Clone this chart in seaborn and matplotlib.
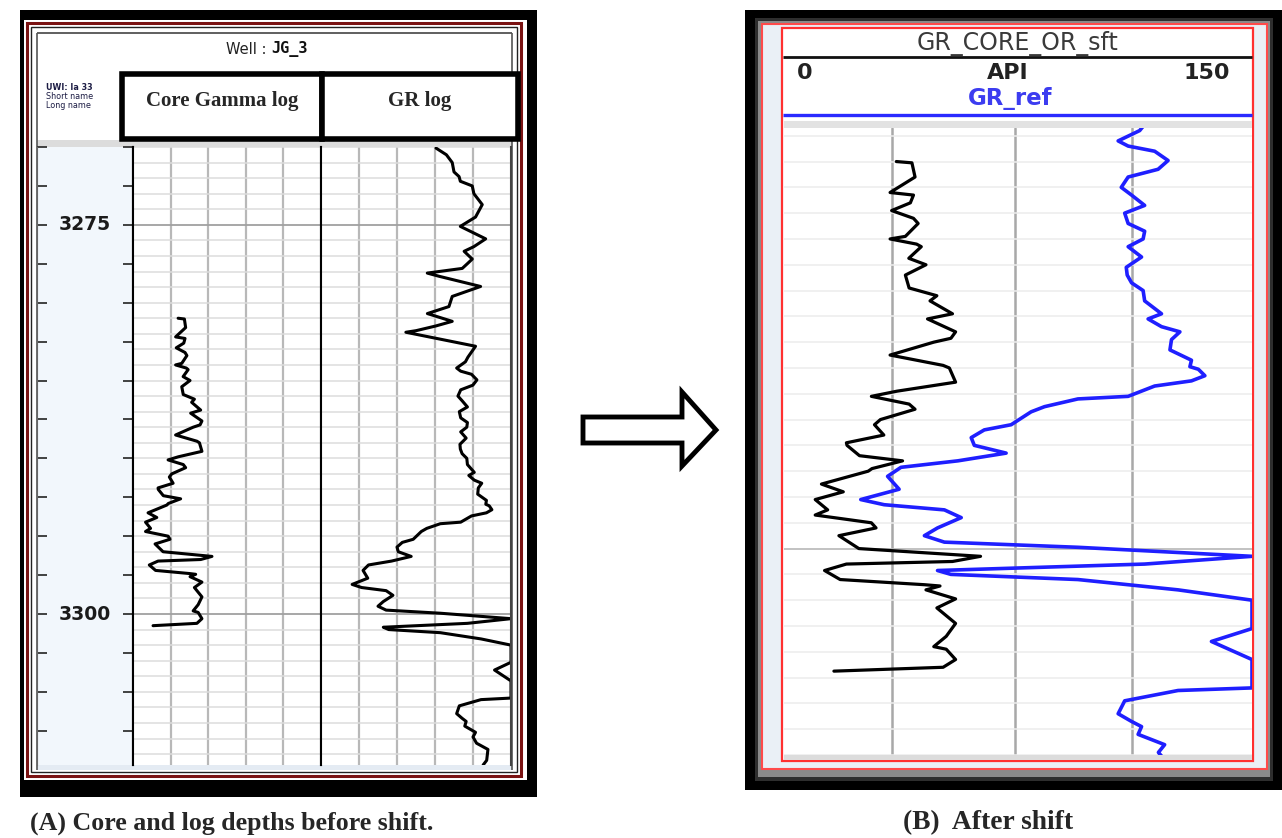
import matplotlib
matplotlib.use("Agg")
import numpy as np
import pandas as pd
import seaborn as sns
import matplotlib.pyplot as plt
from matplotlib.patches import Rectangle, Polygon
from matplotlib.ticker import MultipleLocator, FixedLocator
import matplotlib.transforms as mtrans

# ---------------- data ----------------
GR_DEPTH = [3270.07, 3270.5, 3271.0, 3271.6, 3271.9, 3272.2, 3272.5, 3273.0, 3273.7, 3274.5,
            3275.1, 3275.9, 3276.4, 3276.7, 3277.2, 3277.5, 3277.8, 3278.1, 3278.3, 3278.96,
            3279.6, 3280.25, 3280.7, 3281.2, 3281.5, 3281.8, 3281.9, 3282.8, 3283.5, 3283.8,
            3284.2, 3284.4, 3284.6, 3284.96, 3285.3, 3285.6, 3286.0, 3286.3, 3286.7, 3287.0,
            3287.4, 3287.7, 3288.0, 3288.3, 3288.7, 3289.1, 3289.4, 3289.7, 3290.0, 3290.4,
            3290.9, 3291.1, 3291.4, 3291.6, 3291.9, 3292.3, 3292.7, 3292.95, 3293.05, 3293.3,
            3293.5, 3293.7, 3294.1, 3294.2, 3294.5, 3294.7, 3295.2, 3295.4, 3295.7, 3296.0,
            3296.3, 3296.6, 3296.85, 3297.2, 3297.7, 3298.1, 3298.3, 3298.5, 3298.8, 3299.2,
            3299.5, 3299.75, 3299.95, 3300.3, 3300.6, 3300.85, 3301.0, 3301.2, 3301.6, 3302.0,
            3303.1, 3303.6, 3304.3, 3305.4, 3305.5, 3305.9, 3306.4, 3306.7, 3306.9, 3307.2,
            3307.6, 3307.9, 3308.3, 3308.7, 3309.4, 3309.7]
GR_API = [90.8, 99.0, 103.6, 105.0, 109.0, 110.0, 119.4, 120.7, 127.3, 122.0,
          110.0, 130.0, 120.7, 113.0, 119.4, 115.5, 111.5, 83.9, 93.0, 126.0,
          103.6, 101.0, 84.0, 103.6, 90.5, 75.0, 67.0, 122.0, 116.0, 114.0,
          107.1, 110.3, 118.8, 123.1, 119.9, 110.3, 108.1, 111.4, 115.6, 109.2,
          110.3, 115.6, 115.1, 110.3, 114.6, 109.7, 110.0, 111.4, 115.1, 115.6,
          121.0, 116.7, 121.0, 126.9, 124.2, 123.7, 130.6, 130.1, 132.8, 134.9,
          130.6, 118.8, 110.3, 94.2, 83.5, 79.2, 72.8, 64.2, 60.0, 61.0,
          71.2, 55.7, 37.5, 33.2, 36.9, 24.6, 32.1, 51.4, 56.8, 49.2,
          45.0, 51.4, 94.2, 150.0, 115.6, 49.2, 53.5, 94.2, 126.3, 150.0,
          150.0, 137.0, 150.0, 150.0, 126.3, 109.2, 107.1, 111.4, 114.6, 113.5,
          122.0, 120.0, 122.8, 131.8, 130.8, 128.0]

CORE_DEPTH = [3281.0, 3281.05, 3281.6, 3282.2, 3282.3, 3282.6, 3282.9, 3283.2, 3283.4, 3283.9,
              3284.0, 3284.2, 3284.3, 3284.75, 3285.0, 3285.4, 3285.9, 3286.2, 3286.4, 3286.9,
              3287.1, 3287.6, 3287.85, 3288.0, 3288.5, 3288.9, 3289.0, 3289.55, 3289.9, 3290.1,
              3290.4, 3290.6, 3291.0, 3291.2, 3291.6, 3291.9, 3292.0, 3292.4, 3292.6, 3292.9,
              3293.0, 3293.5, 3293.8, 3294.1, 3294.5, 3294.7, 3295.0, 3295.2, 3295.5, 3296.0,
              3296.3, 3296.5, 3296.6, 3296.85, 3297.2, 3297.4, 3297.45, 3297.6, 3297.95, 3298.3,
              3298.9, 3299.4, 3299.8, 3299.9, 3300.3, 3300.6, 3300.75]
CORE_API = [36.0, 41.0, 42.0, 34.0, 41.5, 40.5, 34.5, 41.5, 43.0, 38.9,
            34.0, 42.5, 44.0, 40.0, 45.5, 38.9, 40.1, 49.0, 46.8, 54.0,
            46.0, 55.0, 53.5, 48.0, 34.0, 51.0, 53.0, 55.0, 36.2, 28.0,
            40.1, 42.0, 30.9, 29.0, 32.0, 20.0, 20.2, 24.2, 38.0, 28.2,
            27.0, 12.0, 19.0, 10.0, 14.0, 10.0, 28.0, 29.5, 17.6, 24.0,
            63.0, 54.0, 20.0, 13.0, 18.0, 45.0, 50.0, 45.5, 55.0, 49.0,
            55.0, 52.0, 48.0, 52.0, 55.0, 51.0, 16.0]

CORE_SHIFT = 4.0                 # depth shift applied to the core curve (panel B)
DEPTH_LABELS = [3275, 3300]
API_RANGE = (0, 150)
WELL_NAME = "JG_3"
TRACK_TITLES = ["Core Gamma log", "GR log"]
B_TITLE = "GR_CORE_OR_sft"
B_CURVE = "GR_ref"
CAPTIONS = ["(A) Core and log depths before shift.", "(B)  After shift"]

gr_df = pd.DataFrame({"depth": GR_DEPTH, "api": GR_API})
core_df = pd.DataFrame({"depth": CORE_DEPTH, "api": CORE_API})
core_shift_df = core_df.assign(depth=core_df["depth"] + CORE_SHIFT)

# ---------------- figure ----------------
sns.set_style("white")
plt.rcParams["font.family"] = ["DejaVu Sans"]
W, H = 1282, 838
fig = plt.figure(figsize=(W / 100, H / 100), dpi=100)


def px_axes(x0, y0, x1, y1):
    return fig.add_axes([x0 / W, 1 - y1 / H, (x1 - x0) / W, (y1 - y0) / H])


bg = px_axes(0, 0, W, H)
bg.set_xlim(0, W)
bg.set_ylim(H, 0)
bg.axis("off")


def rect(x0, y0, x1, y1, **kw):
    bg.add_patch(Rectangle((x0, y0), x1 - x0, y1 - y0, **kw))


def seg(xs, ys, **kw):
    bg.plot(xs, ys, solid_capstyle="butt", **kw)


# ---------- panel A frame ----------
rect(20, 10, 537, 797, fc="black", ec="none")
rect(24, 20, 527, 780, fc="white", ec="none")
rect(27, 23, 521, 776, fc="none", ec="#7a1212", lw=2.2)
rect(31, 27, 517, 772, fc="none", ec="#222222", lw=1.0)
seg([37, 512], [33, 33], color="#444444", lw=1.2)
seg([37, 37], [33, 770], color="#555555", lw=1.2)
seg([512, 512], [33, 770], color="#555555", lw=1.2)
rect(37, 140, 512, 147, fc="#dcdcdc", ec="none")
rect(37, 765, 512, 770, fc="#e4ebf3", ec="none")

bg.text(271, 49, "Well : ", ha="right", va="center", fontsize=10.5, color="#222222")
bg.text(271, 49, WELL_NAME, ha="left", va="center", fontsize=11, fontweight="bold",
        family="DejaVu Sans Mono", color="#111111")
for i, t in enumerate(["UWI: Ia 33", "Short name", "Long name"]):
    bg.text(46, 88 + i * 8.5, t, ha="left", va="center", fontsize=5.8, color="#1c1c44",
            fontweight="bold" if i == 0 else "normal")

# header boxes
rect(122, 74, 322, 139, fc="white", ec="black", lw=4, zorder=5)
rect(322, 74, 518, 139, fc="white", ec="black", lw=4, zorder=5)
bg.text(222, 101, TRACK_TITLES[0], ha="center", va="center", fontsize=15,
        family="Liberation Serif", fontweight="bold", zorder=6)
bg.text(420, 101, TRACK_TITLES[1], ha="center", va="center", fontsize=15,
        family="Liberation Serif", fontweight="bold", zorder=6)

# ---------- panel B frame ----------
rect(745, 10, 1282, 790, fc="black", ec="none")
rect(755, 18, 1273, 781, fc="#2e2e2e", ec="none")
rect(758, 21, 1270, 777, fc="#8a8a8a", ec="none")
rect(762, 24, 1267, 769, fc="#eaf0f6", ec="#ff4a4a", lw=1.5)
rect(782, 28, 1253, 761, fc="white", ec="#ff3030", lw=1.6)
bg.text(1018, 43, B_TITLE, ha="center", va="center", fontsize=17, color="#3a3a3a")
seg([783, 1252], [57, 57], color="#111111", lw=2)
bg.text(797, 73, str(API_RANGE[0]), ha="left", va="center", fontsize=16,
        fontweight="bold", color="#222222")
bg.text(1008, 73, "API", ha="center", va="center", fontsize=16,
        fontweight="bold", color="#222222")
bg.text(1230, 73, str(API_RANGE[1]), ha="right", va="center", fontsize=16,
        fontweight="bold", color="#222222")
bg.text(1010, 99, B_CURVE, ha="center", va="center", fontsize=16.5,
        fontweight="bold", color="#3c3cf0")
seg([783, 1252], [115, 115], color="#2a2aff", lw=2.4)
rect(784, 121, 1252, 128, fc="#e2e2e2", ec="none")
rect(784, 755, 1252, 760, fc="#dcdcdc", ec="none")

# ---------- arrow ----------
bg.add_patch(Polygon([(583, 417), (682, 417), (682, 392), (716, 430),
                      (682, 466), (682, 443), (583, 443)],
                     closed=True, fc="white", ec="black", lw=3.5, joinstyle="miter"))

# ---------- captions ----------
bg.text(30, 823, CAPTIONS[0], ha="left", va="center", fontsize=18.6,
        family="Liberation Serif", fontweight="bold")
bg.text(903, 823, CAPTIONS[1], ha="left", va="center", fontsize=19.8,
        family="Liberation Serif", fontweight="bold")


# ---------- track helper ----------
def style_track(ax, ylim, vgrid, majors, minor_c, major_c, vcol, vlw):
    ax.set_xlim(*API_RANGE)
    ax.set_ylim(*ylim)
    ax.xaxis.set_major_locator(FixedLocator(vgrid))
    ax.yaxis.set_major_locator(FixedLocator(majors))
    ax.yaxis.set_minor_locator(MultipleLocator(1))
    ax.grid(which="major", axis="x", color=vcol, lw=vlw)
    ax.grid(which="minor", axis="y", color=minor_c, lw=1.1)
    ax.grid(which="major", axis="y", color=major_c, lw=1.3)
    ax.tick_params(which="both", left=False, right=False, top=False, bottom=False,
                   labelleft=False, labelbottom=False)
    ax.set_xlabel("")
    ax.set_ylabel("")
    ax.set_axisbelow(True)
    ax.set_facecolor("white")


A_YLIM = (3309.7, 3270.0)
B_YLIM = (3308.0, 3283.7)

# depth column
dax = px_axes(37, 147, 133, 765)
dax.set_facecolor("#f2f7fc")
dax.set_xlim(0, 1)
dax.set_ylim(*A_YLIM)
dax.set_xticks([])
dax.yaxis.set_major_locator(MultipleLocator(2.5))
dax.tick_params(axis="y", which="major", left=True, right=True, direction="in",
                length=7, width=1.3, color="#333333", labelleft=False)
for s in ("top", "bottom"):
    dax.spines[s].set_visible(False)
dax.spines["left"].set_color("#666666")
dax.spines["right"].set_color("black")
dax.spines["right"].set_linewidth(1.5)
trans = mtrans.blended_transform_factory(dax.transAxes, dax.transData)
for d in DEPTH_LABELS:
    dax.text(0.5, d, str(d), transform=trans, ha="center", va="center",
             fontsize=13.5, fontweight="bold", color="#1b1b1b")

# core track (A)
cax = px_axes(133, 147, 321, 765)
sns.lineplot(data=core_df, x="api", y="depth", orient="y", sort=False, estimator=None,
             color="black", lw=2.2, ax=cax)
style_track(cax, A_YLIM, [30, 60, 90, 120], DEPTH_LABELS, "#dcdcdc", "#a0a0a0", "#b8b8b8", 1.6)
for s in ("top", "bottom"):
    cax.spines[s].set_visible(False)
for s in ("left", "right"):
    cax.spines[s].set_color("black")
    cax.spines[s].set_linewidth(1.5)

# GR track (A)
gax = px_axes(321, 147, 511, 765)
sns.lineplot(data=gr_df, x="api", y="depth", orient="y", sort=False, estimator=None,
             color="black", lw=2.2, ax=gax)
style_track(gax, A_YLIM, [30, 60, 90, 120], DEPTH_LABELS, "#dcdcdc", "#a0a0a0", "#b8b8b8", 1.6)
for s in ("top", "bottom"):
    gax.spines[s].set_visible(False)
gax.spines["left"].set_color("black")
gax.spines["left"].set_linewidth(1.5)
gax.spines["right"].set_color("#444444")
gax.spines["right"].set_linewidth(1.5)

# panel B track
bax = px_axes(784, 128, 1252, 755)
sns.lineplot(data=core_shift_df, x="api", y="depth", orient="y", sort=False, estimator=None,
             color="black", lw=2.3, ax=bax)
sns.lineplot(data=gr_df, x="api", y="depth", orient="y", sort=False, estimator=None,
             color="#1f1fff", lw=2.6, ax=bax)
style_track(bax, B_YLIM, [34.5, 74, 111.5], [3300], "#ececec", "#bdbdbd", "#a8a8a8", 1.8)
for s in bax.spines.values():
    s.set_visible(False)

fig.savefig("out.png", dpi=100)
